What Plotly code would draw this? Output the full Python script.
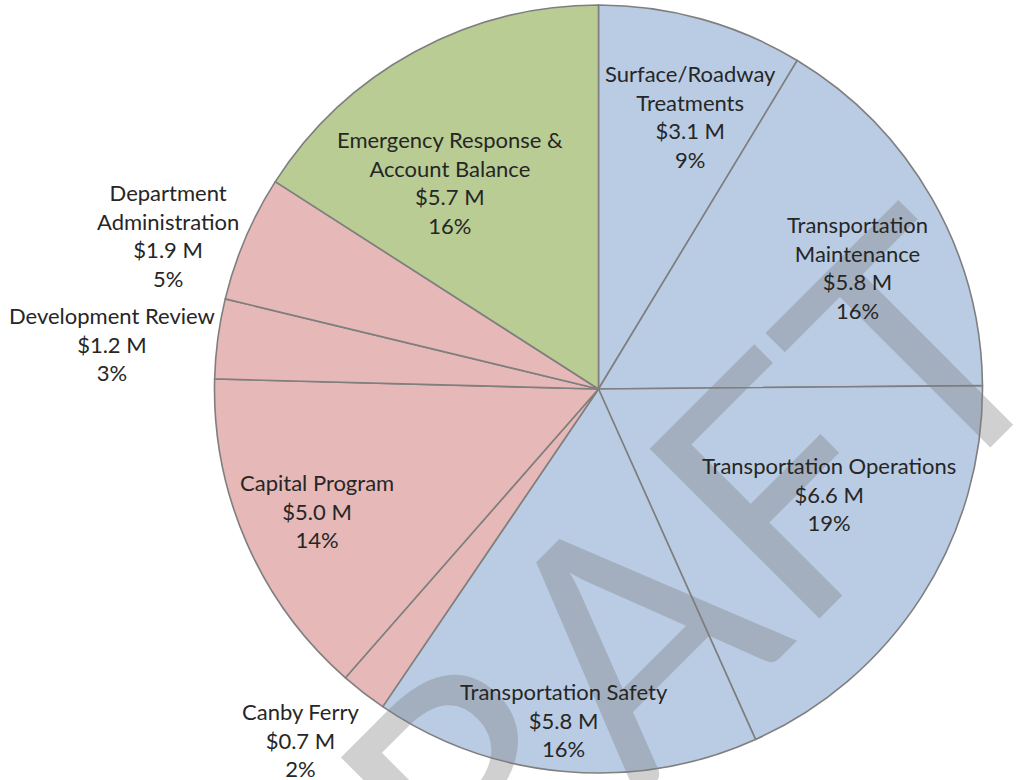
import plotly.graph_objects as go

# ---- data (clockwise from 12 o'clock) ----
categories = ["Surface/Roadway Treatments", "Transportation Maintenance", "Transportation Operations",
              "Transportation Safety", "Canby Ferry", "Capital Program", "Development Review",
              "Department Administration", "Emergency Response & Account Balance"]
label_lines = ["Surface/Roadway<br>Treatments", "Transportation<br>Maintenance", "Transportation Operations",
               "Transportation Safety", "Canby Ferry", "Capital Program", "Development Review",
               "Department<br>Administration", "Emergency Response &<br>Account Balance"]
values_musd = [3.1, 5.8, 6.6, 5.8, 0.7, 5.0, 1.2, 1.9, 5.7]
percent_labels = ["9%", "16%", "19%", "16%", "2%", "14%", "3%", "5%", "16%"]
groups = ["blue", "blue", "blue", "blue", "red", "red", "red", "red", "green"]
watermark_text = "DRAFT"

# ---- styles / positions ----
W, H = 1017, 780
group_colors = {"blue": "#B9CCE4", "red": "#E6B8B7", "green": "#B8CC94"}
# label block centers in pixels
label_pos_px = [(690, 116), (857, 267), (829, 494), (564, 720), (300, 740),
                (317, 511), (112, 344), (168, 235), (450, 182)]
cx, cy, r = 598.5, 389, 384

fig = go.Figure()
fig.add_trace(go.Pie(
    labels=categories, values=values_musd, sort=False, direction="clockwise", rotation=0,
    marker=dict(colors=[group_colors[g] for g in groups], line=dict(color="#7F7F7F", width=1.6)),
    textinfo="none", hoverinfo="skip", showlegend=False,
    domain=dict(x=[(cx - r) / W, (cx + r) / W], y=[1 - (cy + r) / H, 1 - (cy - r) / H]),
))

annotations = []
# watermark
annotations.append(dict(
    text=watermark_text, x=598 / W, y=1 - 656 / H, xref="paper", yref="paper",
    xanchor="center", yanchor="middle", showarrow=False, textangle=-45,
    font=dict(family="Lato", size=335, color="rgba(124,124,124,0.36)"),
))
for lab, v, p, (px, py) in zip(label_lines, values_musd, percent_labels, label_pos_px):
    annotations.append(dict(
        text=f"{lab}<br>${v:.1f} M<br>{p}", x=px / W, y=1 - py / H, xref="paper", yref="paper",
        xanchor="center", yanchor="middle", showarrow=False, align="center",
        font=dict(family="Lato", size=22, color="#262626"),
    ))

fig.update_layout(
    width=W, height=H, margin=dict(l=0, r=0, t=0, b=0),
    paper_bgcolor="white", plot_bgcolor="white", annotations=annotations,
)
fig.write_html("out.html", config={"displayModeBar": False},
               post_script="document.body.style.margin='0';")
